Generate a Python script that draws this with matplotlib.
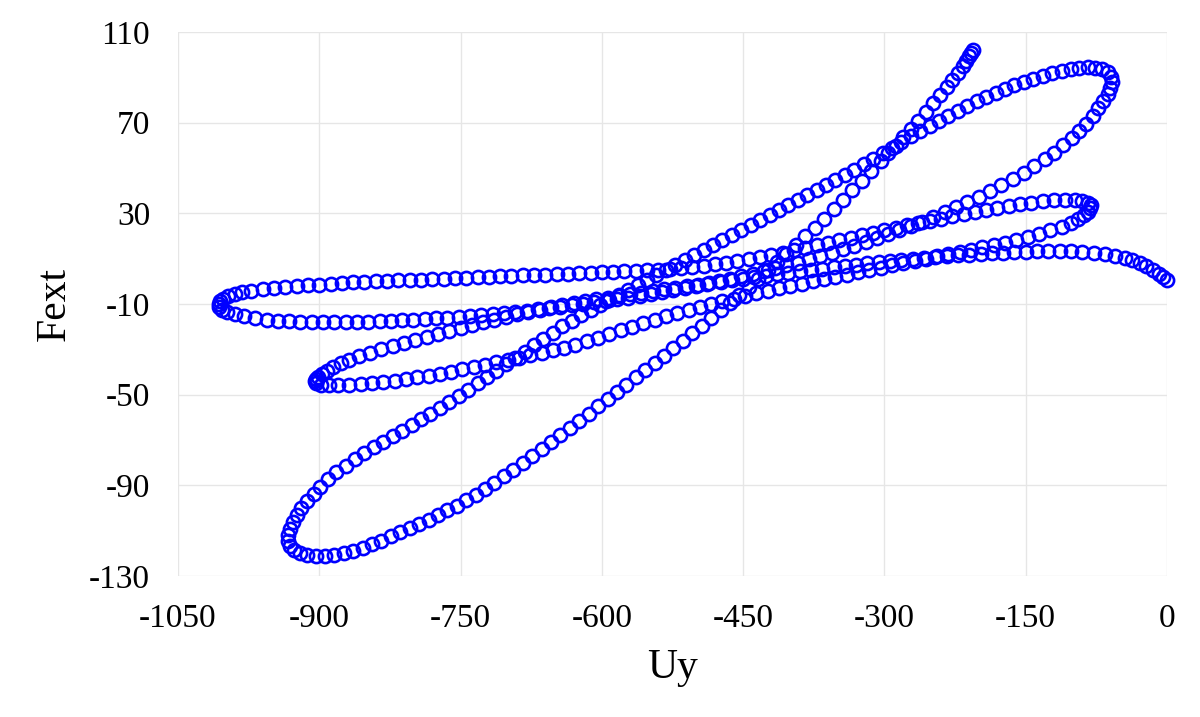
import matplotlib
matplotlib.use("Agg")
import matplotlib.pyplot as plt
import numpy as np

plt.rcParams['font.family'] = ['Liberation Serif', 'DejaVu Serif']
plt.rcParams['axes.unicode_minus'] = False

# Uy / Fext, one list per branch, in time order
# start (0,0) -> small left tip
branch_1 = [(0, 0.5), (-4, 1.8), (-9, 3.4), (-15, 5.1), (-22, 6.8), (-29, 8.2), (-37, 9.4), (-45, 10.4),
            (-55, 11.3), (-66, 12.1), (-78, 12.7), (-90, 13.1), (-102, 13.3), (-114, 13.4), (-126, 13.3),
            (-138, 13.2), (-150, 13.0), (-162, 12.8), (-174, 12.5), (-186, 12.3), (-198, 12.0), (-210, 11.7),
            (-222, 11.4), (-234, 11.0), (-246, 10.7), (-258, 10.3), (-270, 9.9), (-282, 9.4), (-294, 8.9),
            (-306, 8.4), (-318, 7.9), (-330, 7.3), (-342, 6.8), (-354, 6.2), (-366, 5.6), (-378, 5.0),
            (-390, 4.4), (-402, 3.8), (-414, 3.2), (-426, 2.5), (-438, 1.9), (-450, 1.2), (-462, 0.6),
            (-474, -0.1), (-486, -0.8), (-498, -1.5), (-510, -2.2), (-522, -2.9), (-534, -3.6), (-546, -4.3),
            (-558, -5.0), (-570, -5.7), (-582, -6.5), (-594, -7.2), (-606, -8.0), (-618, -8.8), (-630, -9.6),
            (-642, -10.6), (-654, -11.5), (-666, -12.5), (-678, -13.5), (-690, -14.6), (-702, -15.7),
            (-714, -16.9), (-726, -18.1), (-738, -19.4), (-750, -20.7), (-762, -22.0), (-774, -23.3),
            (-786, -24.6), (-798, -25.9), (-810, -27.2), (-822, -28.6), (-834, -30.0), (-846, -31.5),
            (-858, -33.1), (-868, -34.6), (-877, -36.2), (-885, -37.8), (-892, -39.4), (-897, -40.8),
            (-901, -42.0), (-904, -43.1), (-905, -44.0)]

# small left tip -> small right tip
branch_2 = [(-903, -44.8), (-898, -45.6), (-890, -45.9), (-880, -45.9), (-868, -45.7), (-856, -45.4),
            (-844, -45.0), (-832, -44.5), (-820, -43.8), (-808, -43.1), (-796, -42.4), (-784, -41.6),
            (-772, -40.7), (-760, -39.8), (-748, -38.8), (-736, -37.8), (-724, -36.8), (-712, -35.8),
            (-700, -34.8), (-688, -33.8), (-676, -32.7), (-664, -31.6), (-652, -30.5), (-640, -29.3),
            (-628, -28.0), (-616, -26.4), (-604, -24.8), (-592, -23.2), (-580, -21.6), (-568, -20.0),
            (-556, -18.4), (-544, -16.9), (-532, -15.4), (-520, -14.0), (-508, -12.6), (-496, -11.3),
            (-484, -10.0), (-472, -8.8), (-460, -7.6), (-448, -6.4), (-436, -5.3), (-424, -4.2), (-412, -3.1),
            (-400, -2.0), (-388, -1.0), (-376, 0.0), (-364, 1.0), (-352, 2.0), (-340, 3.0), (-328, 4.0),
            (-316, 5.0), (-304, 6.0), (-292, 7.0), (-280, 8.0), (-268, 9.0), (-256, 10.0), (-244, 11.0),
            (-232, 12.0), (-220, 13.0), (-208, 14.0), (-196, 15.0), (-184, 16.0), (-172, 17.1), (-160, 18.3),
            (-148, 19.6), (-136, 21.0), (-124, 22.5), (-112, 24.1), (-102, 25.8), (-94, 27.5), (-88, 29.2),
            (-84, 30.8), (-82, 32.2)]

# small right tip -> medium left tip
branch_3 = [(-81, 33.5), (-84, 34.6), (-90, 35.3), (-98, 35.7), (-108, 35.9), (-120, 35.8), (-132, 35.3),
            (-144, 34.7), (-156, 34.0), (-168, 33.2), (-180, 32.4), (-192, 31.5), (-204, 30.6), (-216, 29.7),
            (-228, 28.7), (-240, 27.7), (-252, 26.7), (-264, 25.7), (-276, 24.7), (-288, 23.6), (-300, 22.5),
            (-312, 21.4), (-324, 20.3), (-336, 19.2), (-348, 18.1), (-360, 17.0), (-372, 15.9), (-384, 14.8),
            (-396, 13.7), (-408, 12.7), (-420, 11.7), (-432, 10.8), (-444, 9.9), (-456, 9.1), (-468, 8.3),
            (-480, 7.6), (-492, 6.9), (-504, 6.3), (-516, 5.9), (-528, 5.5), (-540, 5.2), (-552, 4.9),
            (-564, 4.6), (-576, 4.4), (-588, 4.2), (-600, 4.0), (-612, 3.8), (-624, 3.6), (-636, 3.4),
            (-648, 3.2), (-660, 3.0), (-672, 2.8), (-684, 2.6), (-696, 2.4), (-708, 2.2), (-720, 2.0),
            (-732, 1.8), (-744, 1.6), (-756, 1.4), (-768, 1.2), (-780, 1.0), (-792, 0.8), (-804, 0.6),
            (-816, 0.4), (-828, 0.2), (-840, 0.0), (-852, -0.2), (-864, -0.5), (-876, -0.8), (-888, -1.1),
            (-900, -1.4), (-912, -1.8), (-924, -2.2), (-936, -2.6), (-948, -3.0), (-960, -3.5), (-972, -4.1),
            (-982, -4.8), (-990, -5.6), (-997, -6.6), (-1002, -7.7), (-1005, -8.8), (-1007, -10.0)]

# medium left tip -> medium right tip
branch_4 = [(-1006, -11.3), (-1003, -12.5), (-998, -13.6), (-990, -14.6), (-980, -15.5), (-968, -16.3),
            (-956, -16.9), (-944, -17.3), (-932, -17.6), (-920, -17.8), (-908, -17.9), (-896, -18.0),
            (-884, -18.0), (-872, -18.0), (-860, -17.9), (-848, -17.8), (-836, -17.6), (-824, -17.4),
            (-812, -17.2), (-800, -16.9), (-788, -16.6), (-776, -16.3), (-764, -16.0), (-752, -15.6),
            (-740, -15.2), (-728, -14.8), (-716, -14.4), (-704, -13.9), (-692, -13.4), (-680, -12.9),
            (-668, -12.4), (-656, -11.8), (-644, -11.2), (-632, -10.6), (-620, -10.0), (-608, -9.3),
            (-596, -8.6), (-584, -7.9), (-572, -7.2), (-560, -6.5), (-548, -5.6), (-536, -4.7), (-524, -3.8),
            (-512, -2.9), (-500, -2.0), (-488, -1.0), (-476, 0.0), (-464, 1.1), (-452, 2.2), (-440, 3.3),
            (-428, 4.5), (-416, 5.7), (-404, 7.0), (-392, 8.3), (-380, 9.7), (-368, 11.1), (-356, 12.6),
            (-344, 14.1), (-332, 15.7), (-320, 17.3), (-308, 19.0), (-296, 20.7), (-284, 22.5), (-272, 24.4),
            (-260, 26.3), (-248, 28.3), (-236, 30.4), (-224, 32.6), (-212, 34.9), (-200, 37.3), (-188, 39.8),
            (-176, 42.4), (-164, 45.1), (-152, 48.0), (-141, 50.8), (-130, 53.8), (-120, 56.8), (-110, 60.0),
            (-101, 63.2), (-93, 66.4), (-86, 69.6), (-79, 73.0), (-73, 76.3), (-68, 79.5), (-63, 82.6),
            (-60, 85.4), (-58, 88.0)]

# medium right tip -> big left tip
branch_5 = [(-59, 90.3), (-63, 92.2), (-69, 93.5), (-76, 94.2), (-84, 94.4), (-93, 94.2), (-102, 93.6),
            (-112, 92.8), (-122, 91.8), (-132, 90.6), (-142, 89.3), (-152, 87.9), (-162, 86.4), (-172, 84.8),
            (-182, 83.1), (-192, 81.3), (-202, 79.4), (-212, 77.4), (-222, 75.3), (-232, 73.1), (-242, 70.9),
            (-252, 68.6), (-262, 66.3), (-272, 63.9), (-282, 61.5), (-292, 59.0), (-302, 56.5), (-312, 54.0),
            (-322, 51.6), (-332, 49.2), (-342, 46.9), (-352, 44.6), (-362, 42.3), (-372, 40.1), (-382, 37.9),
            (-392, 35.7), (-402, 33.5), (-412, 31.3), (-422, 29.2), (-432, 27.0), (-442, 24.8), (-452, 22.6),
            (-462, 20.4), (-472, 18.3), (-482, 16.1), (-492, 14.0), (-502, 11.8), (-512, 9.6), (-522, 7.4),
            (-532, 5.2), (-542, 3.0), (-552, 0.8), (-562, -1.5), (-572, -3.8), (-582, -6.1), (-592, -8.4),
            (-602, -10.5), (-612, -12.7), (-622, -15.0), (-632, -17.4), (-642, -19.9), (-652, -22.6),
            (-662, -25.4), (-672, -28.2), (-682, -31.0), (-692, -33.8), (-702, -36.6), (-712, -39.4),
            (-722, -42.2), (-732, -45.0), (-742, -47.8), (-752, -50.6), (-762, -53.2), (-772, -55.8),
            (-782, -58.4), (-792, -60.9), (-802, -63.4), (-812, -65.9), (-822, -68.3), (-832, -70.7),
            (-842, -73.2), (-852, -75.8), (-862, -78.5), (-872, -81.3), (-882, -84.3), (-891, -87.4),
            (-899, -90.6), (-906, -93.8), (-913, -97.0), (-919, -100.2), (-924, -103.3), (-928, -106.3),
            (-931, -109.2), (-933, -112.0)]

# big left tip -> end
branch_6 = [(-933, -114.6), (-931, -116.8), (-927, -118.6), (-921, -119.9), (-913, -120.7), (-904, -121.0),
            (-894, -121.0), (-884, -120.6), (-874, -119.9), (-864, -118.9), (-854, -117.6), (-844, -116.1),
            (-834, -114.4), (-824, -112.3), (-814, -110.6), (-804, -108.9), (-794, -107.1), (-784, -105.2),
            (-774, -103.2), (-764, -101.1), (-754, -98.9), (-744, -96.6), (-734, -94.1), (-724, -91.5),
            (-714, -88.8), (-704, -86.0), (-694, -83.1), (-684, -80.1), (-674, -77.1), (-664, -74.0),
            (-654, -70.9), (-644, -67.8), (-634, -64.7), (-624, -61.6), (-614, -58.4), (-604, -55.2),
            (-594, -52.0), (-584, -48.8), (-574, -45.6), (-564, -42.4), (-554, -39.2), (-544, -36.0),
            (-534, -32.8), (-524, -29.5), (-514, -26.2), (-504, -22.9), (-494, -19.6), (-484, -16.2),
            (-474, -12.8), (-464, -9.4), (-454, -5.9), (-444, -2.4), (-434, 1.2), (-424, 4.8), (-414, 8.5),
            (-404, 12.2), (-394, 16.0), (-384, 19.8), (-374, 23.7), (-364, 27.7), (-354, 31.8), (-344, 35.9),
            (-334, 40.1), (-324, 44.3), (-314, 48.6), (-304, 52.9), (-296, 56.4), (-288, 59.9), (-280, 63.5),
            (-272, 67.1), (-264, 70.8), (-256, 74.6), (-248, 78.5), (-241, 82.0), (-234, 85.6), (-228, 88.8),
            (-222, 92.0), (-217, 94.8), (-213, 97.2), (-210, 99.3), (-208, 100.8), (-206, 102.0)]

x_ticks = [-1050, -900, -750, -600, -450, -300, -150, 0]
y_ticks = [-130, -90, -50, -10, 30, 70, 110]

pts = np.array(branch_1 + branch_2 + branch_3 + branch_4 + branch_5 + branch_6)
uy = pts[:, 0]
fext = pts[:, 1]

fig = plt.figure(figsize=(12, 7.17), dpi=100)
ax = fig.add_axes([178 / 1200, 1 - 576 / 717, 989 / 1200, 544 / 717])

ax.plot(uy, fext, 'o', ms=9.5, mfc='none', mec='#0000ff', mew=1.9, clip_on=False, zorder=3)

ax.set_xlim(-1050, 0)
ax.set_ylim(-130, 110)
ax.set_xticks(x_ticks)
ax.set_yticks(y_ticks)
ax.grid(True, color='#e6e6e6', lw=1)
ax.set_axisbelow(True)
for s in ax.spines.values():
    s.set_visible(False)
ax.tick_params(length=0, labelsize=24, pad=20)

ax.set_xlabel('Uy', fontsize=30, va='center')
ax.xaxis.set_label_coords(0.5, -92 / 544)
ax.set_ylabel('Fext', fontsize=30, va='center')
ax.yaxis.set_label_coords(-123 / 989, 0.5)

fig.savefig('out.png', dpi=100)
